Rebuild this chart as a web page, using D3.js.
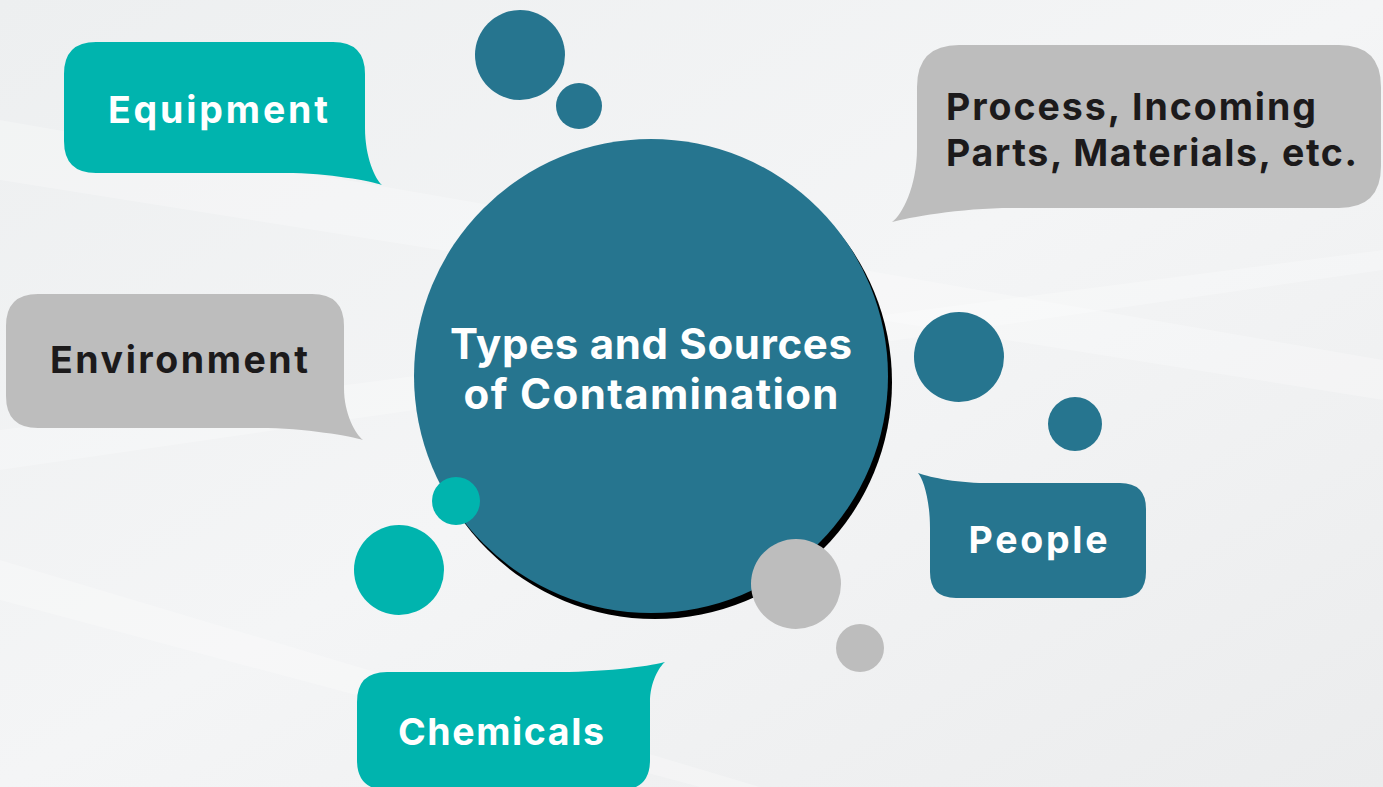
<!DOCTYPE html>
<html><head><meta charset="utf-8">
<script src="https://cdn.jsdelivr.net/npm/d3@7"></script>
<style>html,body{margin:0;padding:0;overflow:hidden;background:#eef0f1}</style>
</head><body>
<script>
// ---- data ----
const title = ["Types and Sources", "of Contamination"];
const labels = [["Equipment"], ["Process, Incoming", "Parts, Materials, etc."], ["Environment"], ["People"], ["Chemicals"]];
const bubbleColors = ["teal", "gray", "gray", "blue", "teal"];
const dotColors = ["blue", "blue", "blue", "blue", "teal", "teal", "gray", "gray"];
const palette = {teal: "#00b4ae", blue: "#26758f", gray: "#bdbdbd"};
const textColors = {teal: "#ffffff", blue: "#ffffff", gray: "#1c1a1b"};

// ---- layout (styling / geometry) ----
const W = 1383, H = 787;
const bubbleLayout = [
  {x0:64, y0:42, x1:365, y1:173, r:32, corner:"br", dx:17, dy:12, a:45, b:80, tx:218, ty:[123], tw:[220], anchor:"middle"},
  {x0:917, y0:45, x1:1381, y1:208, r:42, corner:"bl", dx:25, dy:14, a:60, b:95, tx:946, ty:[120, 166], tw:[370, 411], anchor:"start"},
  {x0:6, y0:294, x1:344, y1:428, r:32, corner:"br", dx:19, dy:12, a:40, b:85, tx:179, ty:[373], tw:[258], anchor:"middle"},
  {x0:930, y0:483, x1:1146, y1:598, r:26, corner:"tl", dx:12, dy:10, a:45, b:55, tx:1038, ty:[553], tw:[139], anchor:"middle"},
  {x0:357, y0:672, x1:650, y1:790, r:30, corner:"tr", dx:15, dy:10, a:30, b:90, tx:501, ty:[745], tw:[206], anchor:"middle"}
];
const dotLayout = [
  {cx:520, cy:55, r:45}, {cx:579, cy:106, r:23},
  {cx:959, cy:357, r:45}, {cx:1075, cy:424, r:27},
  {cx:456, cy:501, r:24}, {cx:399, cy:570, r:45},
  {cx:796, cy:584, r:45}, {cx:860, cy:648, r:24}
];
const main = {cx:651, cy:376, r:237, sx:4, sy:6, ty:[359, 409], tw:[402, 375]};
const FONT = "Inter, 'Open Sans', sans-serif";

const svg = d3.select("body").append("svg").attr("width", W).attr("height", H);

// background
const defs = svg.append("defs");
const bg = defs.append("linearGradient").attr("id","bg").attr("x1","0").attr("y1","0").attr("x2","1").attr("y2","1");
bg.append("stop").attr("offset","0").attr("stop-color","#edeff0");
bg.append("stop").attr("offset","0.5").attr("stop-color","#f4f5f6");
bg.append("stop").attr("offset","1").attr("stop-color","#ebeced");
svg.append("rect").attr("width",W).attr("height",H).attr("fill","url(#bg)");
const streaks = [
  [[0,120],[1383,360],[1383,400],[0,180]],
  [[0,430],[1383,250],[1383,270],[0,470]],
  [[0,600],[700,787],[760,787],[0,560]]
];
svg.append("g").selectAll("path").data(streaks).join("path")
  .attr("d", d => d3.line()(d) + "Z").attr("fill","#ffffff").attr("opacity",0.25);

// bubble path in local coords with tail at bottom-right
function bubblePath(w, h, r, dx, dy, a, b) {
  const p = d3.path();
  p.moveTo(r, 0);
  p.lineTo(w - r, 0);
  p.quadraticCurveTo(w, 0, w, r);
  p.lineTo(w, h - a);
  p.bezierCurveTo(w, h - a * 0.35, w + dx * 0.6, h + dy * 0.5, w + dx, h + dy);
  p.bezierCurveTo(w + dx * 0.4, h + dy * 0.7, w - b * 0.45, h, w - b, h);
  p.lineTo(r, h);
  p.quadraticCurveTo(0, h, 0, h - r);
  p.lineTo(0, r);
  p.quadraticCurveTo(0, 0, r, 0);
  p.closePath();
  return p.toString();
}

const bubbles = svg.append("g").selectAll("g").data(bubbleLayout).join("g");
bubbles.append("path")
  .attr("d", d => bubblePath(d.x1 - d.x0, d.y1 - d.y0, d.r, d.dx, d.dy, d.a, d.b))
  .attr("transform", d => {
    const fx = d.corner.includes("l"), fy = d.corner.includes("t");
    return `translate(${fx ? d.x1 : d.x0},${fy ? d.y1 : d.y0}) scale(${fx ? -1 : 1},${fy ? -1 : 1})`;
  })
  .attr("fill", (d, i) => palette[bubbleColors[i]]);
bubbles.each(function(d, i) {
  const g = d3.select(this);
  labels[i].forEach((line, j) => {
    g.append("text").attr("x", d.tx).attr("y", d.ty[j])
      .attr("text-anchor", d.anchor)
      .attr("font-family", FONT).attr("font-weight", 700)
      .attr("font-size", 37.5)
      .attr("textLength", d.tw[j]).attr("lengthAdjust", "spacing")
      .attr("fill", textColors[bubbleColors[i]]).text(line);
  });
});

// main circle with shadow
svg.append("circle").attr("cx", main.cx + main.sx).attr("cy", main.cy + main.sy).attr("r", main.r).attr("fill", "#000");
svg.append("circle").attr("cx", main.cx).attr("cy", main.cy).attr("r", main.r).attr("fill", palette.blue);
svg.append("g").selectAll("text").data(title).join("text")
  .attr("x", main.cx).attr("y", (d, i) => main.ty[i])
  .attr("text-anchor", "middle")
  .attr("font-family", FONT).attr("font-weight", 700)
  .attr("font-size", 42)
  .attr("textLength", (d, i) => main.tw[i]).attr("lengthAdjust", "spacing")
  .attr("fill", "#fff").text(d => d);

// dots
svg.append("g").selectAll("circle").data(dotLayout).join("circle")
  .attr("cx", d => d.cx).attr("cy", d => d.cy).attr("r", d => d.r)
  .attr("fill", (d, i) => palette[dotColors[i]]);
</script>
</body></html>
